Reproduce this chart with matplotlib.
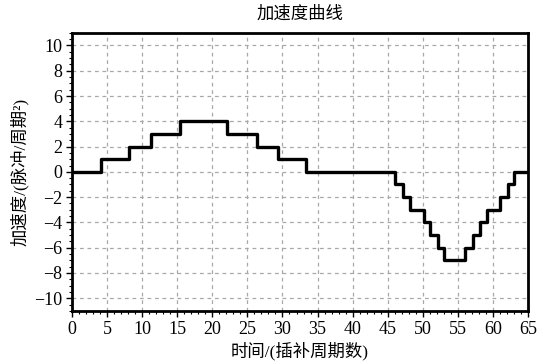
import matplotlib

matplotlib.use("Agg")

import matplotlib.pyplot as plt
from matplotlib.ticker import MultipleLocator

# step edges (time, interpolation periods) and acceleration level after each edge
edges = [0, 4.2, 8.2, 11.3, 15.4, 22.1, 26.3, 29.3, 33.3,
         46.1, 47.2, 48.1, 50.1, 51.0, 52.1, 53.0,
         56.0, 57.1, 58.1, 59.1, 61.0, 62.1, 63.0, 65]
levels = [0, 1, 2, 3, 4, 3, 2, 1, 0,
          -1, -2, -3, -4, -5, -6, -7,
          -6, -5, -4, -3, -2, -1, 0, 0]

x_ticks = list(range(0, 66, 5))
y_ticks = list(range(-10, 11, 2))

plt.rcParams["font.family"] = ["Liberation Serif", "Noto Sans CJK SC"]
plt.rcParams["axes.unicode_minus"] = True

fig = plt.figure(figsize=(5.45, 3.61), dpi=100, facecolor="white")
ax = fig.add_axes([0.132, 0.139, 0.837, 0.770])

ax.step(edges, levels, where="post", color="black", linewidth=2.4)

ax.set_xlim(0, 65)
ax.set_ylim(-11, 11)
ax.set_xticks(x_ticks)
ax.set_yticks(y_ticks)
ax.xaxis.set_minor_locator(MultipleLocator(1))
ax.yaxis.set_minor_locator(MultipleLocator(0.5))
ax.tick_params(which="major", direction="out", length=4, width=1, labelsize=13, pad=3)
ax.tick_params(which="minor", direction="out", length=2, width=0.8)
ax.grid(True, which="major", linestyle=(0, (3, 3)), color="#a8a8a8", linewidth=0.9)
for s in ax.spines.values():
    s.set_linewidth(2)

ax.set_title("加速度曲线", fontsize=12.5, pad=10)
ax.set_xlabel("时间/(插补周期数)", fontsize=12.5, labelpad=3)
ax.set_ylabel("加速度/(脉冲/周期²)", fontsize=12.5, labelpad=4)

fig.savefig("out.png", dpi=100, facecolor="white")
